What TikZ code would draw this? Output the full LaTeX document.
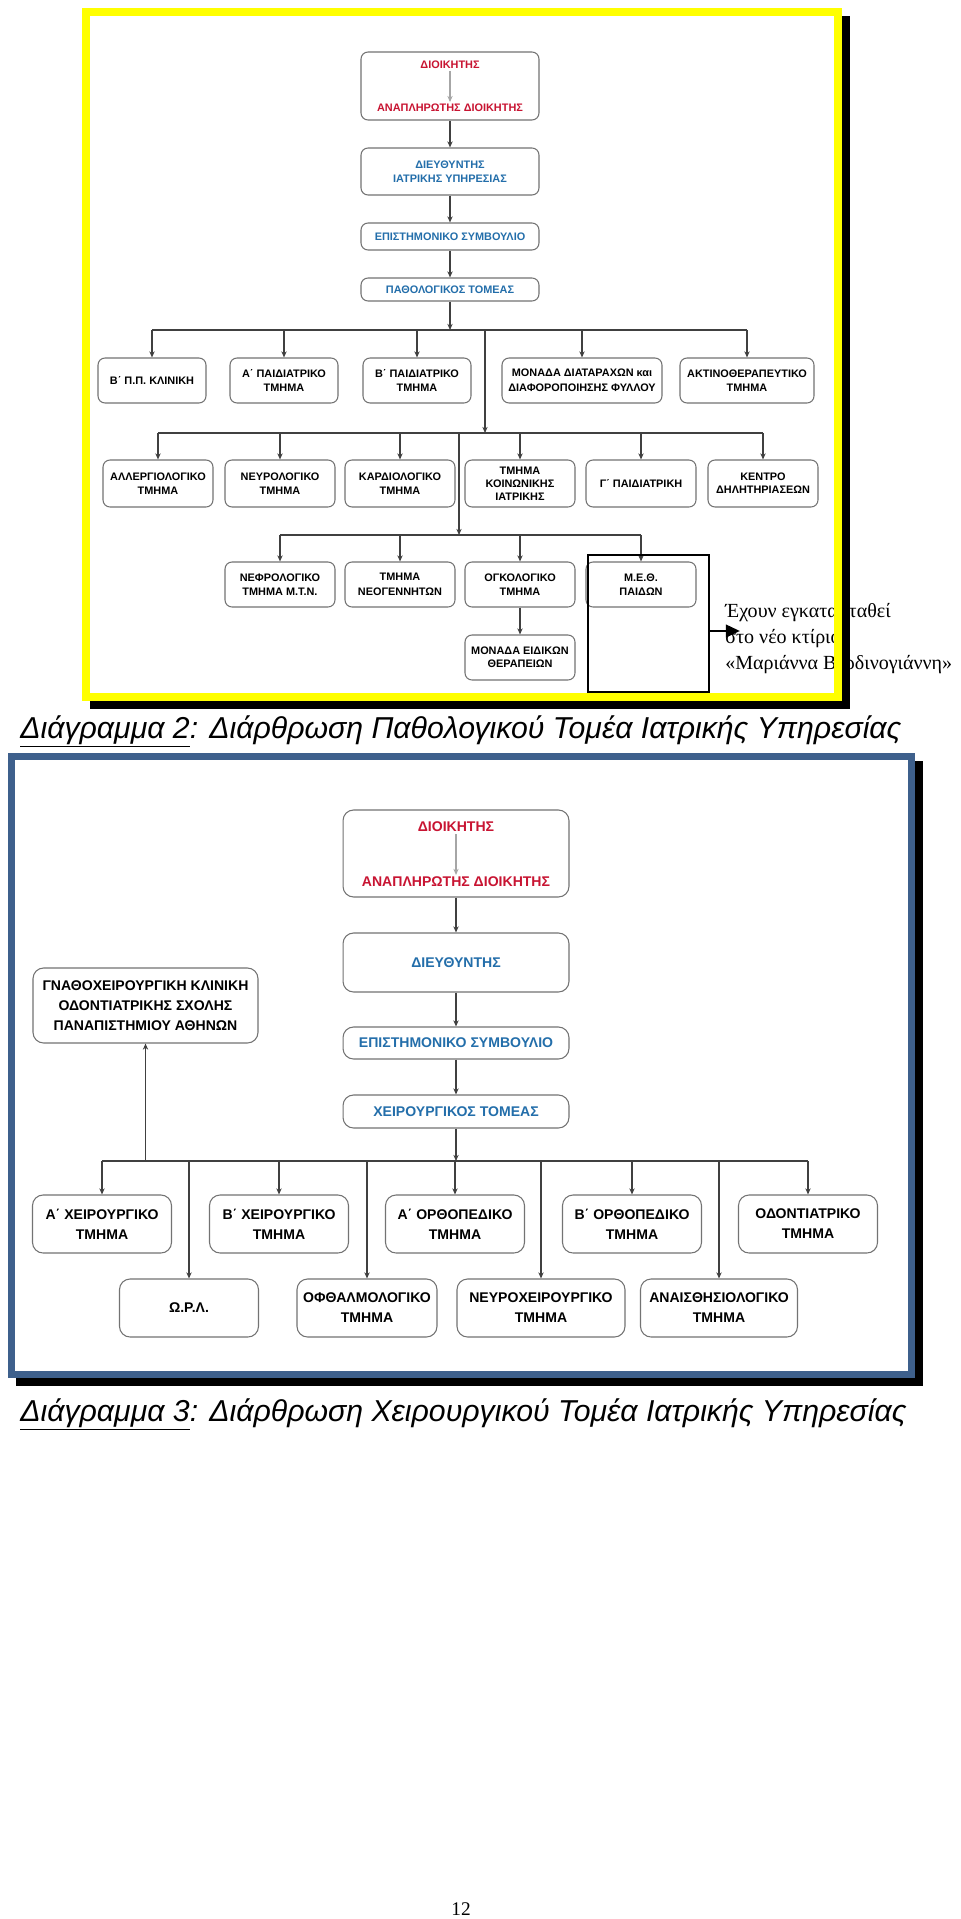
\documentclass[tikz,border=0pt]{standalone}
\usepackage{fontspec}
\setmainfont{Liberation Serif}
\setsansfont{Liberation Sans}
\usetikzlibrary{arrows.meta}

\definecolor{boss}{RGB}{200,20,50}
\definecolor{head}{RGB}{35,110,170}
\definecolor{frameblue}{RGB}{62,96,140}
\definecolor{framey}{RGB}{255,255,0}

\tikzset{
  unit/.style={draw=black!55, line width=0.6pt, rounded corners=4pt, fill=white,
    align=center, inner sep=1pt, text=black,
    font=\sffamily\bfseries\fontsize{6.2}{8.3}\selectfont},
  bigunit/.style={unit, rounded corners=6pt,
    font=\sffamily\bfseries\fontsize{8}{11.3}\selectfont},
  label2/.style={inner sep=1pt, font=\sffamily\bfseries\fontsize{6.2}{8.3}\selectfont},
  label3/.style={inner sep=1pt, font=\sffamily\bfseries\fontsize{8}{11.3}\selectfont},
  link/.style={draw=black!75, line width=0.6pt},
  arr/.style={link, -{Stealth[length=3.5pt,width=3pt]}},
  softarr/.style={draw=black!35, line width=0.6pt, -{Stealth[length=3.5pt,width=3pt]}},
  caption/.style={anchor=base west, inner sep=0pt, font=\sffamily\itshape\fontsize{17.2}{20}\selectfont},
  note/.style={anchor=base west, inner sep=0pt, font=\fontsize{11.4}{13.5}\selectfont},
}

\begin{document}
\begin{tikzpicture}[x=0.02cm, y=-0.02cm]
    \useasboundingbox (0,0) rectangle (960,1919);

    % Diagram 2: pathology sector
    \fill[white] (82,8) rectangle (842,701);
    \node[unit, minimum width=3.56cm, minimum height=1.36cm] (pdioik) at (450,86) {};
    \node[label2, text=boss] (pdioiktop) at (450,65) {ΔΙΟΙΚΗΤΗΣ};
    \node[label2, text=boss] (pdioiksub) at (450,108) {ΑΝΑΠΛΗΡΩΤΗΣ ΔΙΟΙΚΗΤΗΣ};
    \draw[softarr] (pdioiktop) -- (pdioiksub);
    \node[unit, text=head, minimum width=3.56cm, minimum height=0.94cm] (pdieyth) at (450,171.5) {ΔΙΕΥΘΥΝΤΗΣ\\ΙΑΤΡΙΚΗΣ ΥΠΗΡΕΣΙΑΣ};
    \node[unit, text=head, minimum width=3.56cm, minimum height=0.54cm] (pepist) at (450,236.5) {ΕΠΙΣΤΗΜΟΝΙΚΟ ΣΥΜΒΟΥΛΙΟ};
    \node[unit, text=head, minimum width=3.56cm, minimum height=0.46cm] (ptomeas) at (450,289.5) {ΠΑΘΟΛΟΓΙΚΟΣ ΤΟΜΕΑΣ};
    \draw[arr] (pdioik) -- (pdieyth);
    \draw[arr] (pdieyth) -- (pepist);
    \draw[arr] (pepist) -- (ptomeas);

    % first row
    \node[unit, minimum width=2.16cm, minimum height=0.9cm] (pkliniki) at (152,380.5) {Β΄ Π.Π. ΚΛΙΝΙΚΗ};
    \node[unit, minimum width=2.16cm, minimum height=0.9cm] (ppaidA) at (284,380.5) {Α΄ ΠΑΙΔΙΑΤΡΙΚΟ\\ΤΜΗΜΑ};
    \node[unit, minimum width=2.16cm, minimum height=0.9cm] (ppaidB) at (417,380.5) {Β΄ ΠΑΙΔΙΑΤΡΙΚΟ\\ΤΜΗΜΑ};
    \node[unit, minimum width=3.2cm, minimum height=0.9cm] (pmonada) at (582,380.5) {ΜΟΝΑΔΑ ΔΙΑΤΑΡΑΧΩΝ και\\ΔΙΑΦΟΡΟΠΟΙΗΣΗΣ ΦΥΛΛΟΥ};
    \node[unit, minimum width=2.68cm, minimum height=0.9cm] (paktino) at (747,380.5) {ΑΚΤΙΝΟΘΕΡΑΠΕΥΤΙΚΟ\\ΤΜΗΜΑ};
    \coordinate (pbusA) at (450,330);
    \draw[arr] (ptomeas) -- (pbusA);
    \draw[link] (pbusA -| pkliniki) -- (pbusA -| paktino);
    \draw[arr] (pbusA -| pkliniki) -- (pkliniki);
    \draw[arr] (pbusA -| ppaidA) -- (ppaidA);
    \draw[arr] (pbusA -| ppaidB) -- (ppaidB);
    \draw[arr] (pbusA -| pmonada) -- (pmonada);
    \draw[arr] (pbusA -| paktino) -- (paktino);

    % second row
    \node[unit, minimum width=2.2cm, minimum height=0.94cm] (pallerg) at (158,483.5) {ΑΛΛΕΡΓΙΟΛΟΓΙΚΟ\\ΤΜΗΜΑ};
    \node[unit, minimum width=2.2cm, minimum height=0.94cm] (pneyro) at (280,483.5) {ΝΕΥΡΟΛΟΓΙΚΟ\\ΤΜΗΜΑ};
    \node[unit, minimum width=2.2cm, minimum height=0.94cm] (pkardio) at (400,483.5) {ΚΑΡΔΙΟΛΟΓΙΚΟ\\ΤΜΗΜΑ};
    \node[unit, minimum width=2.2cm, minimum height=0.94cm, font=\sffamily\bfseries\fontsize{6.2}{7.4}\selectfont] (pkoin) at (520,483.5) {ΤΜΗΜΑ\\ΚΟΙΝΩΝΙΚΗΣ\\ΙΑΤΡΙΚΗΣ};
    \node[unit, minimum width=2.2cm, minimum height=0.94cm] (ppaidG) at (641,483.5) {Γ΄ ΠΑΙΔΙΑΤΡΙΚΗ};
    \node[unit, minimum width=2.2cm, minimum height=0.94cm, font=\sffamily\bfseries\fontsize{6.2}{7.4}\selectfont] (pkentro) at (763,483.5) {ΚΕΝΤΡΟ\\ΔΗΛΗΤΗΡΙΑΣΕΩΝ};
    \coordinate (pbusB) at (485,433);
    \draw[arr] (pbusA -| pbusB) -- (pbusB);
    \draw[link] (pbusB -| pallerg) -- (pbusB -| pkentro);
    \draw[arr] (pbusB -| pallerg) -- (pallerg);
    \draw[arr] (pbusB -| pneyro) -- (pneyro);
    \draw[arr] (pbusB -| pkardio) -- (pkardio);
    \draw[arr] (pbusB -| pkoin) -- (pkoin);
    \draw[arr] (pbusB -| ppaidG) -- (ppaidG);
    \draw[arr] (pbusB -| pkentro) -- (pkentro);

    % third row
    \node[unit, minimum width=2.2cm, minimum height=0.9cm] (pnefro) at (280,584.5) {ΝΕΦΡΟΛΟΓΙΚΟ\\ΤΜΗΜΑ Μ.Τ.Ν.};
    \node[unit, minimum width=2.2cm, minimum height=0.9cm] (pneog) at (400,584.5) {ΤΜΗΜΑ\\ΝΕΟΓΕΝΝΗΤΩΝ};
    \node[unit, minimum width=2.2cm, minimum height=0.9cm] (pogko) at (520,584.5) {ΟΓΚΟΛΟΓΙΚΟ\\ΤΜΗΜΑ};
    \node[unit, minimum width=2.2cm, minimum height=0.9cm] (pmeth) at (641,584.5) {Μ.Ε.Θ.\\ΠΑΙΔΩΝ};
    \node[unit, minimum width=2.2cm, minimum height=0.9cm, font=\sffamily\bfseries\fontsize{6.2}{7.4}\selectfont] (peidik) at (520,657.5) {ΜΟΝΑΔΑ ΕΙΔΙΚΩΝ\\ΘΕΡΑΠΕΙΩΝ};
    \coordinate (pbusC) at (459,535);
    \draw[arr] (pbusB -| pbusC) -- (pbusC);
    \draw[link] (pbusC -| pnefro) -- (pbusC -| pmeth);
    \draw[arr] (pbusC -| pnefro) -- (pnefro);
    \draw[arr] (pbusC -| pneog) -- (pneog);
    \draw[arr] (pbusC -| pogko) -- (pogko);
    \draw[arr] (pbusC -| pmeth) -- (pmeth);
    \draw[arr] (pogko) -- (peidik);

    % new building note
    \node[draw, line width=1.1pt, minimum width=2.42cm, minimum height=2.74cm] (pnewbox) at (648.5,623.5) {};
    \coordinate (pnotetip) at (740,631);
    \draw[line width=1.6pt, -{Triangle[length=8pt,width=7pt]}] (pnewbox.east |- pnotetip) -- (pnotetip);
    \node[note] (pnoteA) at (725,617) {Έχουν εγκατασταθεί};
    \node[note] (pnoteB) at (725,643) {στο νέο κτίριο};
    \node[note] (pnoteC) at (725,669) {«Μαριάννα Βερδινογιάννη»};

    % yellow frame with shadow, drawn over the note
    \fill[black] (842,16) rectangle (850,709);
    \fill[black] (90,701) rectangle (850,709);
    \draw[framey, line width=0.16cm] (86,12) rectangle (838,697);

    \node[caption] (pcaption) at (20,738) {\underline{Διάγραμμα 2}: Διάρθρωση Παθολογικού Τομέα Ιατρικής Υπηρεσίας};

    % Diagram 3: surgery sector
    \fill[black] (16,761) rectangle (923,1386);
    \draw[frameblue, fill=white, line width=0.14cm] (11.5,756.5) rectangle (911.5,1374.5);

    \node[bigunit, minimum width=4.52cm, minimum height=1.74cm] (sdioik) at (456,853.5) {};
    \node[label3, text=boss] (sdioiktop) at (456,827) {ΔΙΟΙΚΗΤΗΣ};
    \node[label3, text=boss] (sdioiksub) at (456,882) {ΑΝΑΠΛΗΡΩΤΗΣ ΔΙΟΙΚΗΤΗΣ};
    \draw[softarr] (sdioiktop) -- (sdioiksub);
    \node[bigunit, text=head, minimum width=4.52cm, minimum height=1.18cm] (sdieyth) at (456,962.5) {ΔΙΕΥΘΥΝΤΗΣ};
    \node[bigunit, text=head, minimum width=4.52cm, minimum height=0.64cm] (sepist) at (456,1043) {ΕΠΙΣΤΗΜΟΝΙΚΟ ΣΥΜΒΟΥΛΙΟ};
    \node[bigunit, text=head, minimum width=4.52cm, minimum height=0.66cm] (stomeas) at (456,1111.5) {ΧΕΙΡΟΥΡΓΙΚΟΣ ΤΟΜΕΑΣ};
    \draw[arr] (sdioik) -- (sdieyth);
    \draw[arr] (sdieyth) -- (sepist);
    \draw[arr] (sepist) -- (stomeas);
    \node[bigunit, minimum width=4.5cm, minimum height=1.5cm] (sgnatho) at (145.5,1005.5) {ΓΝΑΘΟΧΕΙΡΟΥΡΓΙΚΗ ΚΛΙΝΙΚΗ\\ΟΔΟΝΤΙΑΤΡΙΚΗΣ ΣΧΟΛΗΣ\\ΠΑΝΑΠΙΣΤΗΜΙΟΥ ΑΘΗΝΩΝ};

    \node[bigunit, minimum width=2.78cm, minimum height=1.16cm] (schirA) at (102,1224) {Α΄ ΧΕΙΡΟΥΡΓΙΚΟ\\ΤΜΗΜΑ};
    \node[bigunit, minimum width=2.78cm, minimum height=1.16cm] (schirB) at (279,1224) {Β΄ ΧΕΙΡΟΥΡΓΙΚΟ\\ΤΜΗΜΑ};
    \node[bigunit, minimum width=2.78cm, minimum height=1.16cm] (sorthoA) at (455,1224) {Α΄ ΟΡΘΟΠΕΔΙΚΟ\\ΤΜΗΜΑ};
    \node[bigunit, minimum width=2.78cm, minimum height=1.16cm] (sorthoB) at (632,1224) {Β΄ ΟΡΘΟΠΕΔΙΚΟ\\ΤΜΗΜΑ};
    \node[bigunit, minimum width=2.78cm, minimum height=1.16cm] (sodont) at (808,1224) {ΟΔΟΝΤΙΑΤΡΙΚΟ\\ΤΜΗΜΑ};
    \node[bigunit, minimum width=2.78cm, minimum height=1.16cm] (sorl) at (189,1308) {Ω.Ρ.Λ.};
    \node[bigunit, minimum width=2.8cm, minimum height=1.16cm] (softh) at (367,1308) {ΟΦΘΑΛΜΟΛΟΓΙΚΟ\\ΤΜΗΜΑ};
    \node[bigunit, minimum width=3.36cm, minimum height=1.16cm] (sneyro) at (541,1308) {ΝΕΥΡΟΧΕΙΡΟΥΡΓΙΚΟ\\ΤΜΗΜΑ};
    \node[bigunit, minimum width=3.14cm, minimum height=1.16cm] (sanaisth) at (719,1308) {ΑΝΑΙΣΘΗΣΙΟΛΟΓΙΚΟ\\ΤΜΗΜΑ};

    \coordinate (sbus) at (456,1161);
    \draw[arr] (stomeas) -- (sbus);
    \draw[link] (sbus -| schirA) -- (sbus -| sodont);
    \draw[arr] (sbus -| sgnatho) -- (sgnatho);
    \draw[arr] (sbus -| schirA) -- (schirA);
    \draw[arr] (sbus -| schirB) -- (schirB);
    \draw[arr] (sbus -| sorthoA) -- (sorthoA);
    \draw[arr] (sbus -| sorthoB) -- (sorthoB);
    \draw[arr] (sbus -| sodont) -- (sodont);
    \draw[arr] (sbus -| sorl) -- (sorl);
    \draw[arr] (sbus -| softh) -- (softh);
    \draw[arr] (sbus -| sneyro) -- (sneyro);
    \draw[arr] (sbus -| sanaisth) -- (sanaisth);

    \node[caption] (scaption) at (20,1421) {\underline{Διάγραμμα 3}: Διάρθρωση Χειρουργικού Τομέα Ιατρικής Υπηρεσίας};

    \node[anchor=base, inner sep=0pt, font=\fontsize{11}{13}\selectfont] (pagenum) at (461,1915) {12};
\end{tikzpicture}
\end{document}
